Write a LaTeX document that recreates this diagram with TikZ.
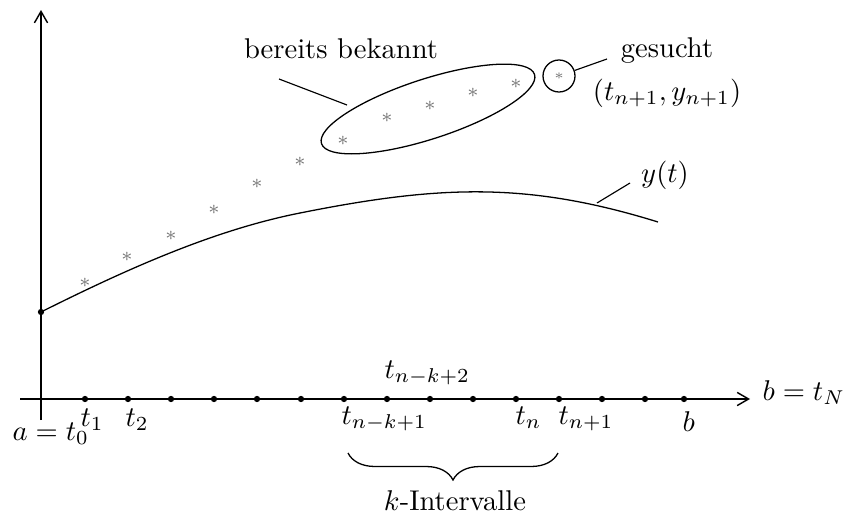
\documentclass[tikz,border=0pt]{standalone}
\usetikzlibrary{arrows.meta,decorations.pathreplacing,shapes.geometric}
\begin{document}
\begin{tikzpicture}[x=0.35pt,y=-0.35pt]
\tikzset{
  axis/.style={line width=0.5pt,-{Straight Barb[length=4pt,width=4.6pt]}},
  tdot/.style={circle,fill=black,inner sep=0pt,minimum size=2.2pt},
  star/.style={text=black!55,inner sep=0pt,font=\scriptsize},
  lbl/.style={inner sep=0pt},
  leader/.style={line width=0.4pt}
}
\useasboundingbox (0,0) rectangle (845,515);

% axes
\coordinate (xs) at (20,399);
\coordinate (xe) at (750,399);
\coordinate (ys) at (41,420);
\coordinate (ye) at (41,10);
\draw[axis] (xs) -- (xe);
\draw[axis] (ys) -- (ye);

% solution curve
\node[tdot] (y0) at (41,312) {};
\coordinate (yend) at (658,222);
\draw[line width=0.45pt] (y0.center) .. controls (127,269) and (214,230) .. (300,213)
  .. controls (440,185) and (528,181.7) .. (yend);

% grid points
\foreach \i/\x in {1/85,2/128,3/171,4/214,5/257,6/301,7/344,8/387,9/430,10/473,11/516,12/559,13/602,14/645,15/684}
  \node[tdot] (t\i) at (\x,399) {};

% approximations
\foreach \i/\x/\y in {1/85/283,2/127/257,3/171/236,4/214/210,5/257/184,6/300/162,7/343/141,8/387/118,9/430/106,10/473/93,11/516/84}
  \node[star] (s\i) at (\x,\y) {$\ast$};

% known values
\node[draw,ellipse,rotate=18,minimum width=78.4pt,minimum height=21pt,inner sep=0pt,line width=0.45pt] (known) at (428,109) {};
\node[draw,circle,minimum size=11.2pt,inner sep=0pt,text=black!55,font=\tiny,line width=0.45pt] (sought) at (559,76) {$\ast$};

% labels
\node[lbl,anchor=base] (bb) at (341,58) {bereits bekannt};
\node[lbl,anchor=base] (gs) at (667,57) {gesucht};
\node[lbl,anchor=base] (gsxy) at (667,100) {$(t_{n+1},y_{n+1})$};
\node[lbl,anchor=base] (yt) at (665,182) {$y(t)$};
\node[lbl,anchor=base west] (bN) at (762,400) {$b=t_N$};
\node[lbl,anchor=base west] (a0) at (12,440) {$a=t_0$};
\node[lbl,anchor=base west] (l1) at (80,426) {$t_1$};
\node[lbl,anchor=base west] (l2) at (125,426) {$t_2$};
\node[lbl,anchor=base west] (lk1) at (341,424) {$t_{n-k+1}$};
\node[lbl,anchor=base west] (lk2) at (384,378) {$t_{n-k+2}$};
\node[lbl,anchor=base west] (ln) at (515,424) {$t_n$};
\node[lbl,anchor=base west] (ln1) at (558,424) {$t_{n+1}$};
\node[lbl,anchor=base west] (lb) at (682,431) {$b$};
\node[lbl,anchor=base] (kint) at (455,510) {$k$-Intervalle};

% leaders
\coordinate (bbA) at (279,79);
\coordinate (bbB) at (347,105);
\draw[leader] (bbA) -- (bbB);
\coordinate (gsA) at (607,59);
\draw[leader] (sought) -- (gsA);
\coordinate (ytA) at (597,203);
\coordinate (ytB) at (630,183);
\draw[leader] (ytA) -- (ytB);

% brace
\coordinate (brL) at (348,453);
\coordinate (brR) at (558,453);
\draw[line width=0.45pt,decorate,decoration={brace,amplitude=9.45pt}] (brR) -- (brL);
\end{tikzpicture}
\end{document}
